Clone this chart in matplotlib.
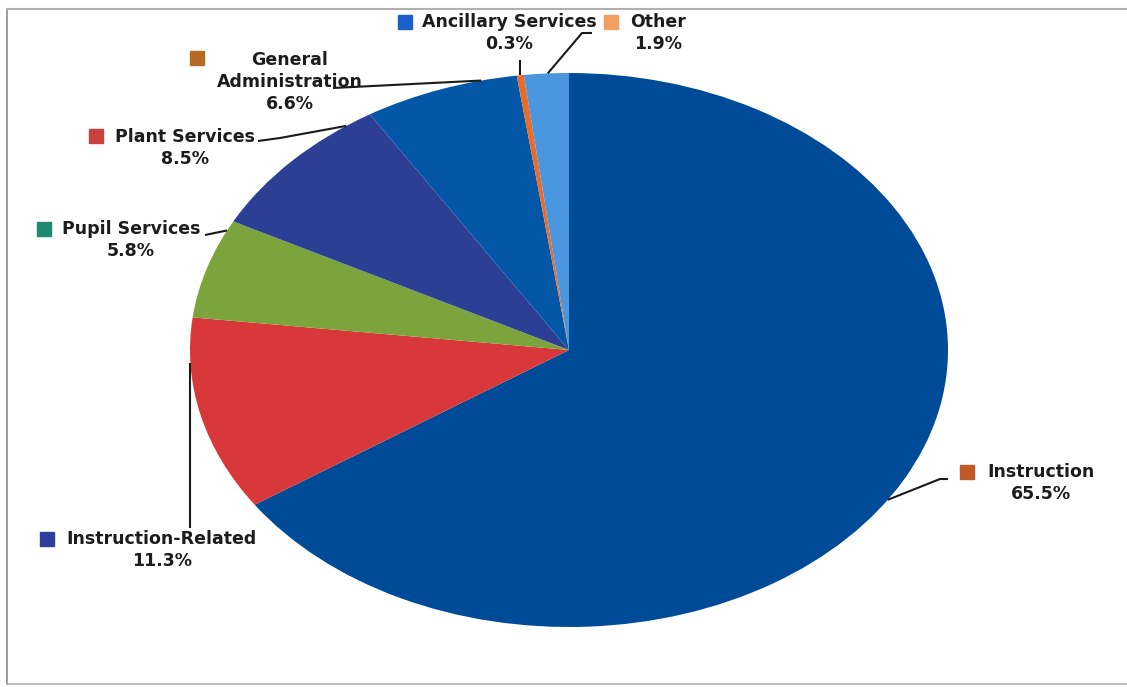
import numpy as np
import matplotlib
matplotlib.use("Agg")
from matplotlib import pyplot as plt

# expenditure shares, clockwise from 12 o'clock
categories = ["Instruction", "Instruction-Related", "Pupil Services", "Plant Services",
              "General\nAdministration", "Ancillary Services", "Other"]
shares = [65.5, 11.3, 5.8, 8.5, 6.6, 0.3, 1.9]

slice_colors = ["#004b98", "#d8383a", "#7ba53c", "#2d3f95", "#0457a6", "#ea6b2c", "#4b97df"]
# legend keys next to each label
key_colors = ["#c05a28", "#2b3f9b", "#1f8a72", "#c8413f", "#b86a22", "#1a60cc", "#f2a062"]

W, H = 1127, 687
cx, cy, rx, ry = 569, 350, 379, 277

fig = plt.figure(figsize=(W / 100, H / 100), dpi=100)

# pie in its own axes, stretched into an ellipse
pie_ax = fig.add_axes([(cx - rx) / W, (H - cy - ry) / H, 2 * rx / W, 2 * ry / H])
pie_ax.pie(shares, colors=slice_colors, startangle=90, counterclock=False,
           radius=1, wedgeprops=dict(linewidth=0))
pie_ax.set_aspect("auto")
pie_ax.set_xlim(-1, 1)
pie_ax.set_ylim(-1, 1)
pie_ax.axis("off")

# overlay in pixel coordinates for labels and leader lines
ax = fig.add_axes([0, 0, 1, 1])
ax.set_xlim(0, W)
ax.set_ylim(H, 0)
ax.axis("off")
ax.patch.set_alpha(0)

total = sum(shares)
cum = np.cumsum([0] + shares[:-1]) / total


def edge_point(i, frac):
    t0 = 90 - 360 * cum[i]
    t = np.radians(t0 - frac * 360 * shares[i] / total)
    return cx + rx * np.cos(t), cy - ry * np.sin(t)


# label placement: (text centre x, first line y, key x, key y, anchor frac, leader path)
layout = [
    (1041, 472, 967, 472, 0.52, [(940, 479), (948, 479)]),
    (162, 539, 47, 539, 0.77, [(None, 528)]),
    (131, 229, 44, 229, 0.9, [(205, 235)]),
    (185, 137, 96, 136, 0.86, [(280, 138), (258, 141)]),
    (290, 60, 197, 58, 0.77, [(333, 88)]),
    (509, 22, 405, 22, 0.5, [(None, 60)]),
    (658, 22, 611, 22, 0.53, [(582, 33), (592, 33)]),
]

txt = dict(fontsize=12.5, fontweight="bold", color="#1c1c1c", ha="center", va="center",
           family="DejaVu Sans")

for i, (tx, ty, kx, ky, frac, path) in enumerate(layout):
    lines = categories[i].split("\n") + ["%.1f%%" % shares[i]]
    for j, s in enumerate(lines):
        ax.text(tx, ty + 22 * j, s, **txt)
    ax.plot(kx, ky, marker="s", markersize=9.5, color=key_colors[i], linestyle="none")

    x0, y0 = edge_point(i, frac)
    xs, ys = [x0], [y0]
    for px, py in path:
        xs.append(x0 if px is None else px)
        ys.append(py)
    ax.plot(xs, ys, color="#1a1a1a", linewidth=1.5, solid_capstyle="butt")

# frame
ax.plot([7, 7], [9, 684], color="#8a8a8a", linewidth=1.2)
ax.plot([7, W], [9, 9], color="#b0b0b0", linewidth=1.5)
ax.plot([7, W], [684, 684], color="#b0b0b0", linewidth=1.2)

fig.savefig("out.png", dpi=100)
